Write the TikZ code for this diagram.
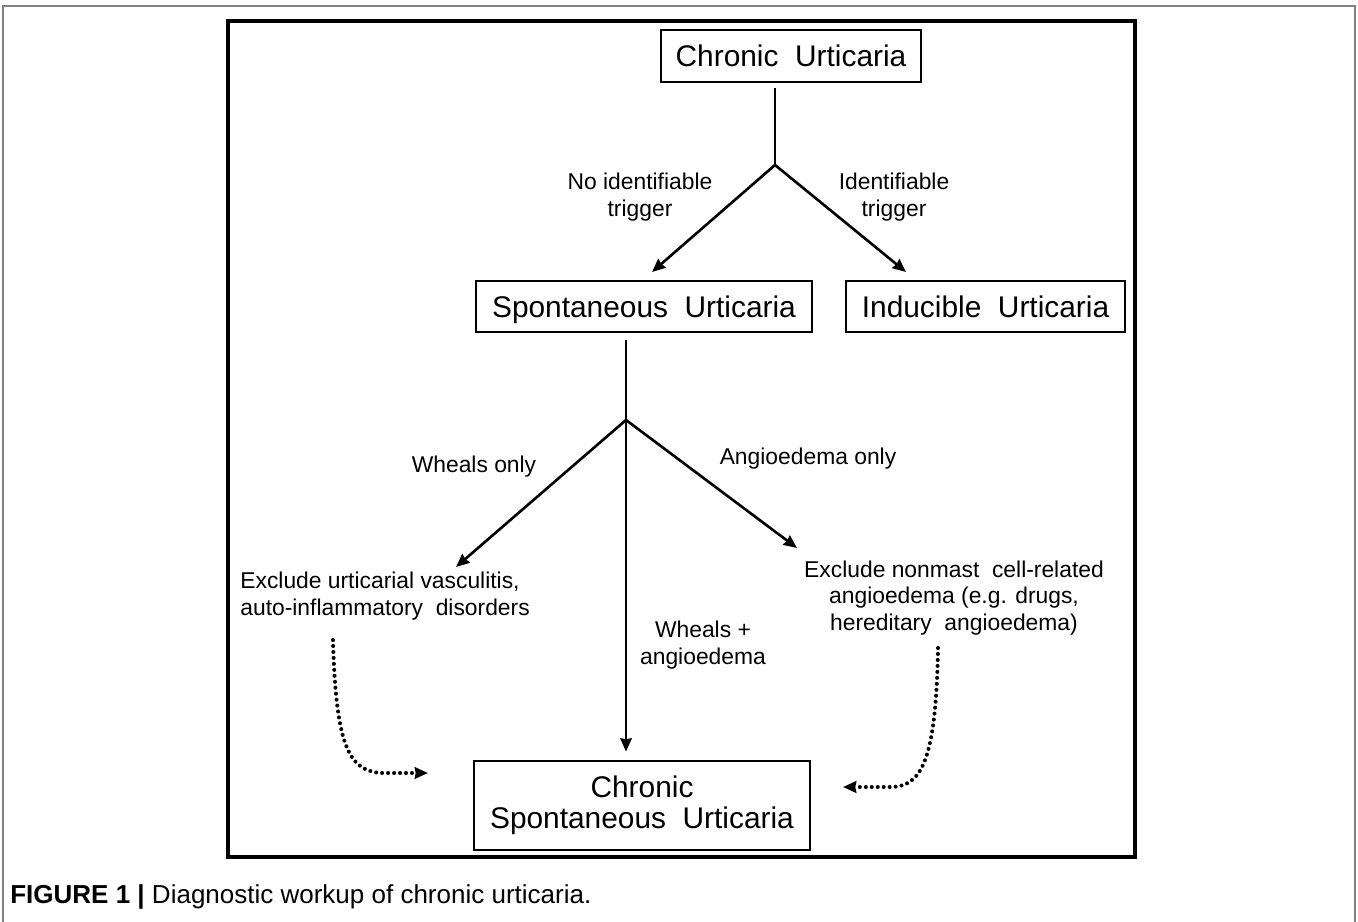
\documentclass[tikz,border=0pt]{standalone}
\usepackage{fontspec}
\setmainfont{Liberation Sans}
\usetikzlibrary{arrows.meta}
\usetikzlibrary{calc}

\begin{document}
\begin{tikzpicture}[x=0.02cm, y=-0.02cm, >={Stealth[length=7.5pt,width=6.5pt,inset=0.5pt]},
  box/.style={draw, line width=0.8pt, inner sep=0pt, align=center, font=\fontsize{17}{17.5}\selectfont},
  onebox/.style={box, text height=12.2pt, text depth=0pt},
  lbl/.style={align=center, inner sep=0pt, font=\fontsize{13}{15}\selectfont},
  arr/.style={line width=1.5pt, ->},
  dots/.style={line width=2.3pt, line cap=round, dash pattern=on 0pt off 3.4pt, ->}]
\useasboundingbox (0,0) rectangle (1358,922);
\draw[gray, line width=1.1pt] (3,922) -- (3,6) -- (1355,6) -- (1355,922);
\draw[line width=2.3pt] (228,21) rectangle (1135,857);

% boxes
\node[onebox, minimum width=5.2cm, minimum height=1.04cm] (cu) at (791,56) {Chronic\ \ Urticaria};
\node[onebox, minimum width=6.72cm, minimum height=1.02cm] (su) at (644,306.5) {Spontaneous\ \ Urticaria};
\node[onebox, minimum width=5.58cm, minimum height=1.02cm] (iu) at (985.5,306.5) {Inducible\ \ Urticaria};
\node[box, minimum width=6.72cm, minimum height=1.78cm] (csu) at (642,805.5) {Chronic\\Spontaneous\ \ Urticaria};

% labels
\node[lbl] (noid) at (640,197) {No identifiable\\trigger};
\node[lbl] (id) at (894,197) {Identifiable\\trigger};
\node[lbl] (wo) at (474,467) {Wheals only};
\node[lbl] (ao) at (808,459) {Angioedema only};
\node[lbl, align=left, anchor=west] (ex1) at (240,596) {Exclude urticarial vasculitis,\\auto-inflammatory\ \ disorders};
\node[lbl] (ex2) at (954,598) {Exclude nonmast\ \ cell-related\\angioedema (e.g. drugs,\\hereditary\ \ angioedema)};
\node[lbl] (wa) at (703,645) {Wheals +\\angioedema};

\coordinate (j1) at (775,165);
\coordinate (su-in) at (652,272);
\coordinate (iu-in) at (906,272);
\coordinate (j2) at (626,420);
\coordinate (ex1-in) at (456,567);
\coordinate (ex2-in) at (797,548);
\coordinate (d1) at (333,640);
\coordinate (d1-in) at (428,773);
\coordinate (d2) at (938,648);
\coordinate (d2-in) at (843,787);

\draw[line width=1.5pt, shorten <=2.8pt] (j1 |- cu.south) -- (j1);
\draw[arr] (j1) -- (su-in);
\draw[arr] (j1) -- (iu-in);
\draw[line width=1.5pt, shorten <=4pt] (j2 |- su.south) -- (j2);
\draw[arr] (j2) -- (ex1-in);
\draw[arr] (j2) -- (ex2-in);
\draw[arr, shorten >=5pt] (j2) -- (j2 |- csu.north);
\draw[dots] (d1) .. controls (336,750) and (350,773) .. (385,773) -- (d1-in);
\draw[dots] (d2) .. controls (936,765) and (920,787) .. (890,787) -- (d2-in);

\node[anchor=base west, inner sep=0pt, font=\fontsize{14.8}{16}\selectfont] (cap) at (10,903) {\textbf{FIGURE 1 |} Diagnostic workup of chronic urticaria.};
\end{tikzpicture}
\end{document}
